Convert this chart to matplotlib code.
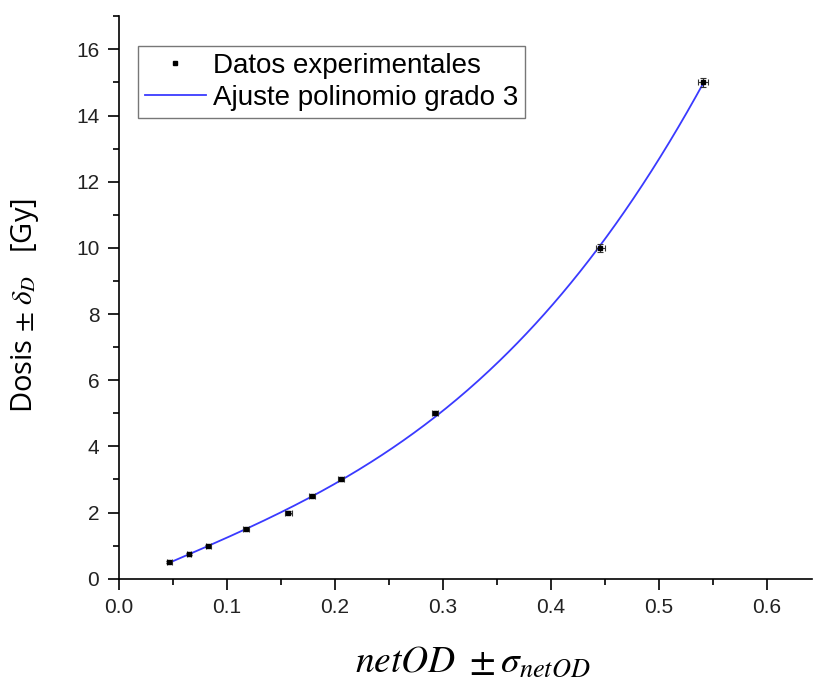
import numpy as np
import matplotlib
matplotlib.use("Agg")
import matplotlib.pyplot as plt
from matplotlib.ticker import MultipleLocator
from matplotlib.lines import Line2D

# Calibration points: net optical density vs. delivered dose
net_od = [0.047, 0.065, 0.083, 0.118, 0.157, 0.179, 0.206, 0.293, 0.446, 0.541]
net_od_err = [0.002, 0.002, 0.002, 0.003, 0.003, 0.003, 0.003, 0.003, 0.004, 0.005]
dose = [0.5, 0.75, 1.0, 1.5, 2.0, 2.5, 3.0, 5.0, 10.0, 15.0]
dose_err = [0.02, 0.02, 0.03, 0.03, 0.04, 0.04, 0.05, 0.06, 0.12, 0.15]

legend_labels = ["Datos experimentales", "Ajuste polinomio grado 3"]
x_ticks = [0.0, 0.1, 0.2, 0.3, 0.4, 0.5, 0.6]
y_ticks = [0, 2, 4, 6, 8, 10, 12, 14, 16]

plt.rcParams["mathtext.fontset"] = "stix"
fit_color = "#3a3aff"

fig = plt.figure(figsize=(8.13, 6.8), dpi=100)
ax = fig.add_axes([0.146, 0.149, 0.853, 0.827])

# third-degree polynomial fit
coef = np.polyfit(net_od, dose, 3)
xf = np.linspace(min(net_od), max(net_od), 300)
ax.plot(xf, np.polyval(coef, xf), color=fit_color, lw=1.3, zorder=2)

ax.errorbar(net_od, dose, xerr=net_od_err, yerr=dose_err, fmt="s", ms=2.5,
            color="black", ecolor="#333333", elinewidth=0.8, capsize=2,
            capthick=0.8, zorder=3)

ax.set_xlim(0, 0.642)
ax.set_ylim(0, 17)
ax.set_xticks(x_ticks)
ax.set_yticks(y_ticks)
ax.xaxis.set_minor_locator(MultipleLocator(0.05))
ax.yaxis.set_minor_locator(MultipleLocator(1))
ax.set_xticklabels([f"{v:.1f}" for v in x_ticks])
ax.set_yticklabels([str(v) for v in y_ticks])

for s in ("top", "right"):
    ax.spines[s].set_visible(False)
for s in ("left", "bottom"):
    ax.spines[s].set_linewidth(1.2)

ax.tick_params(which="major", direction="out", length=8, width=1.2,
               labelsize=15, pad=6)
ax.tick_params(which="minor", direction="out", length=4, width=1.2)
for lab in ax.get_xticklabels() + ax.get_yticklabels():
    lab.set_fontfamily("Liberation Sans")
    lab.set_color("#222222")

ax.set_ylabel(r"Dosis $\pm\ \delta_D$   [Gy]", fontsize=21, family="Open Sans",
              labelpad=25)
ax.yaxis.label.set_y(0.485)
ax.set_xlabel(r"$netOD\ \pm\sigma_{netOD}$", fontsize=27, labelpad=19)
ax.xaxis.label.set_x(0.51)

handles = [
    Line2D([], [], ls="none", marker="s", ms=3, color="black"),
    Line2D([], [], color=fit_color, lw=1.3),
]
leg = ax.legend(handles, legend_labels,
                loc="upper left", bbox_to_anchor=(0.0274, 0.947),
                prop={"family": "Liberation Sans", "size": 20},
                frameon=True, fancybox=False, edgecolor="#555555",
                handlelength=2.2, borderpad=0.25, labelspacing=0.2,
                handletextpad=0.25, borderaxespad=0.0)
leg.get_frame().set_linewidth(1.0)

fig.savefig("out.png", dpi=100)
